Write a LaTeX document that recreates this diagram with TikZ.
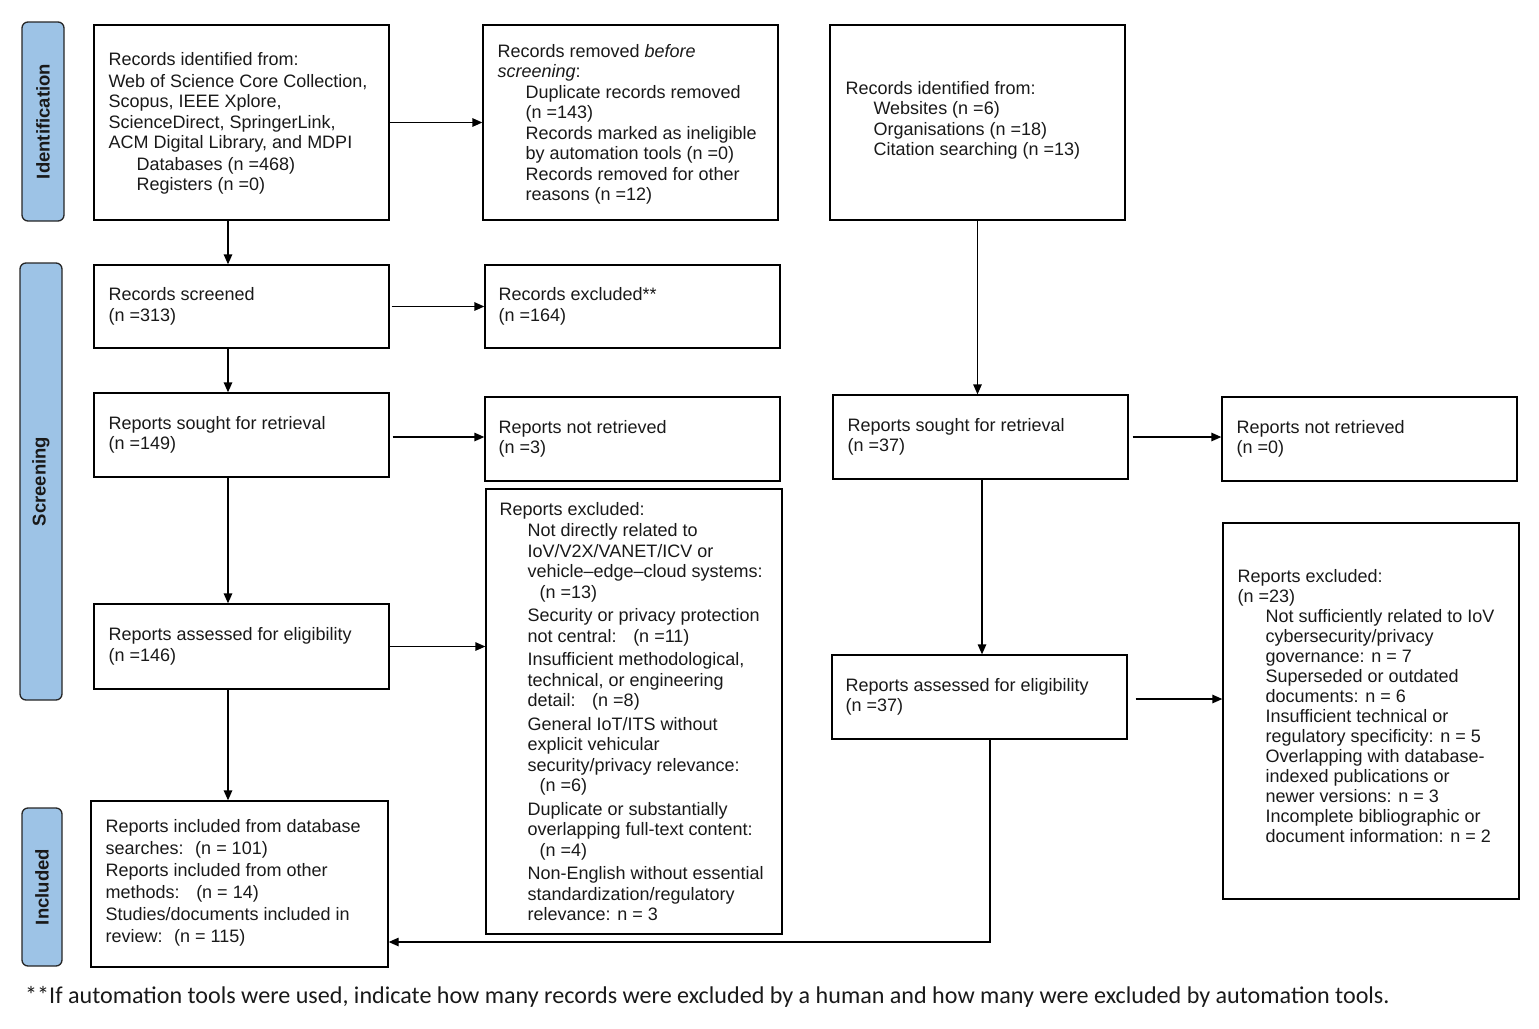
\documentclass[tikz,border=0pt]{standalone}
\usepackage{fontspec}
\setmainfont{Liberation Sans}
\newfontfamily\footfont{Carlito}
\usetikzlibrary{arrows.meta,calc}
\definecolor{phaseblue}{HTML}{9DC3E6}
\newcommand{\ind}{\hspace*{28pt}}
\newcommand{\indd}{\hspace*{40pt}}
\begin{document}
\begin{tikzpicture}[x=1pt,y=-1pt,
  box/.style={draw=black, line width=1.3pt, inner sep=0pt},
  txt/.style={align=left, inner sep=0pt, anchor=west, text=black!90, font=\fontsize{18}{20.5}\selectfont},
  phase/.style={draw=black!85, fill=phaseblue, rounded corners=6pt, line width=1.3pt, inner sep=0pt},
  phasetxt/.style={rotate=90, font=\bfseries\fontsize{18.5}{20}\selectfont, text=black!90},
  arr/.style={-{Triangle[length=10pt,width=8.5pt]}, line width=1.3pt},
]
\useasboundingbox (0,0) rectangle (1539,1028);

% phase labels
\node[phase, minimum width=42pt, minimum height=199pt] (p1) at (43,121.5) {};
\node[phasetxt] (p1t) at (p1.center) {Identification};
\node[phase, minimum width=42pt, minimum height=437pt] (p2) at (41,481.5) {};
\node[phasetxt] (p2t) at (p2.center) {Screening};
\node[phase, minimum width=40pt, minimum height=158pt] (p3) at (42,887) {};
\node[phasetxt] (p3t) at (p3.center) {Included};

% boxes
\node[box, minimum width=295pt, minimum height=195pt] (b1) at (241.5,122.5) {};
\node[box, minimum width=295pt, minimum height=195pt] (b2) at (630.5,122.5) {};
\node[box, minimum width=295pt, minimum height=195pt] (b3) at (977.5,122.5) {};
\node[box, minimum width=295pt, minimum height=83pt] (b4) at (241.5,306.5) {};
\node[box, minimum width=295pt, minimum height=83pt] (b5) at (632.5,306.5) {};
\node[box, minimum width=295pt, minimum height=84pt] (b6) at (241.5,435) {};
\node[box, minimum width=295pt, minimum height=84pt] (b7) at (632.5,439) {};
\node[box, minimum width=295pt, minimum height=84pt] (b8) at (980.5,437) {};
\node[box, minimum width=295pt, minimum height=84pt] (b9) at (1369.5,439) {};
\node[box, minimum width=295pt, minimum height=85pt] (b10) at (241.5,646.5) {};
\node[box, minimum width=296pt, minimum height=445pt] (b11) at (634,711.5) {};
\node[box, minimum width=295pt, minimum height=84pt] (b12) at (979.5,697) {};
\node[box, minimum width=296pt, minimum height=376pt] (b13) at (1371,711) {};
\node[box, minimum width=297pt, minimum height=166pt] (b14) at (239.5,884) {};

% texts
\node[txt] (t1) at ([xshift=15pt,yshift=-1pt]b1.west) {Records identified from:\\[1pt]
Web of Science Core Collection,\\
Scopus, IEEE Xplore,\\
ScienceDirect, SpringerLink,\\
ACM Digital Library, and MDPI\\[1pt]
\ind Databases (n =468)\\
\ind Registers (n =0)};
\node[txt] (t2) at ([xshift=15pt,yshift=-2pt]b2.west) {Records removed \textit{before}\\
\textit{screening}:\\
\ind Duplicate records removed\\
\ind (n =143)\\
\ind Records marked as ineligible\\
\ind by automation tools (n =0)\\
\ind Records removed for other\\
\ind reasons (n =12)};
\node[txt] (t3) at ([xshift=16pt,yshift=2pt]b3.west) {Records identified from:\\
\ind Websites (n =6)\\
\ind Organisations (n =18)\\
\ind Citation searching (n =13)};
\node[txt] (t4) at ([xshift=15pt]b4.west) {Records screened\\(n =313)};
\node[txt] (t5) at ([xshift=14pt]b5.west) {Records excluded**\\(n =164)};
\node[txt] (t6) at ([xshift=15pt]b6.west) {Reports sought for retrieval\\(n =149)};
\node[txt] (t7) at ([xshift=14pt]b7.west) {Reports not retrieved\\(n =3)};
\node[txt] (t8) at ([xshift=15pt]b8.west) {Reports sought for retrieval\\(n =37)};
\node[txt] (t9) at ([xshift=15pt]b9.west) {Reports not retrieved\\(n =0)};
\node[txt] (t10) at ([xshift=15pt]b10.west) {Reports assessed for eligibility\\(n =146)};
\node[txt] (t12) at ([xshift=14pt]b12.west) {Reports assessed for eligibility\\(n =37)};
\node[txt] (t11) at ([xshift=14pt]b11.west) {Reports excluded:\\[1pt]
\ind Not directly related to\\
\ind IoV/V2X/VANET/ICV or\\
\ind vehicle–edge–cloud systems:\\
\indd (n =13)\\[3pt]
\ind Security or privacy protection\\
\ind not central: \ \ (n =11)\\[3pt]
\ind Insufficient methodological,\\
\ind technical, or engineering\\
\ind detail: \ \ (n =8)\\[3pt]
\ind General IoT/ITS without\\
\ind explicit vehicular\\
\ind security/privacy relevance:\\
\indd (n =6)\\[3pt]
\ind Duplicate or substantially\\
\ind overlapping full-text content:\\
\indd (n =4)\\[3pt]
\ind Non-English without essential\\
\ind standardization/regulatory\\
\ind relevance: n = 3};
\node[txt, font=\fontsize{18}{20}\selectfont] (t13) at ([xshift=15pt,yshift=5pt]b13.west) {Reports excluded:\\
(n =23)\\
\ind Not sufficiently related to IoV\\
\ind cybersecurity/privacy\\
\ind governance: n = 7\\
\ind Superseded or outdated\\
\ind documents: n = 6\\
\ind Insufficient technical or\\
\ind regulatory specificity: n = 5\\
\ind Overlapping with database-\\
\ind indexed publications or\\
\ind newer versions: n = 3\\
\ind Incomplete bibliographic or\\
\ind document information: n = 2};
\node[txt, font=\fontsize{18}{22}\selectfont] (t14) at ([xshift=15pt,yshift=1pt]b14.west) {Reports included from database\\
searches: \ (n = 101)\\
Reports included from other\\
methods: \ \ (n = 14)\\
Studies/documents included in\\
review: \ (n = 115)};

% footnote
\node[anchor=base west, inner sep=0pt, text=black!90, font=\footfont\fontsize{24.1}{27}\selectfont] (fn) at (25,1003)
 {**If automation tools were used, indicate how many records were excluded by a human and how many were excluded by automation tools.};

% column coordinates
\coordinate (colA) at (228,0);

% connectors
\draw[arr] (b1.east) -- (b2.west);
\draw[arr] (colA |- b1.south) -- (colA |- b4.north);
\draw[arr, shorten <=2pt] (b4.east) -- (b4.east -| b5.west);
\draw[arr] (colA |- b4.south) -- (colA |- b6.north);
\draw[arr, shorten <=3pt] ([yshift=-2pt]b6.east) -- ([yshift=-2pt]b6.east -| b7.west);
\draw[arr] (colA |- b6.south) -- (colA |- b10.north);
\draw[arr] (b10.east) -- (b10.east -| b11.west);
\draw[arr] (colA |- b10.south) -- (colA |- b14.north);
\draw[arr] (b3.south) -- (b3.south |- b8.north);
\draw[arr, shorten <=4pt] (b8.east) -- (b8.east -| b9.west);
\draw[arr] ([xshift=1.5pt]b8.south) -- ([xshift=1.5pt]b8.south |- b12.north);
\draw[arr, shorten <=8pt] ([yshift=-2pt]b12.east) -- ([yshift=-2pt]b12.east -| b13.west);
\draw[arr] ([xshift=10.5pt]b12.south) |- ([yshift=-58pt]b14.east);
\end{tikzpicture}
\end{document}
